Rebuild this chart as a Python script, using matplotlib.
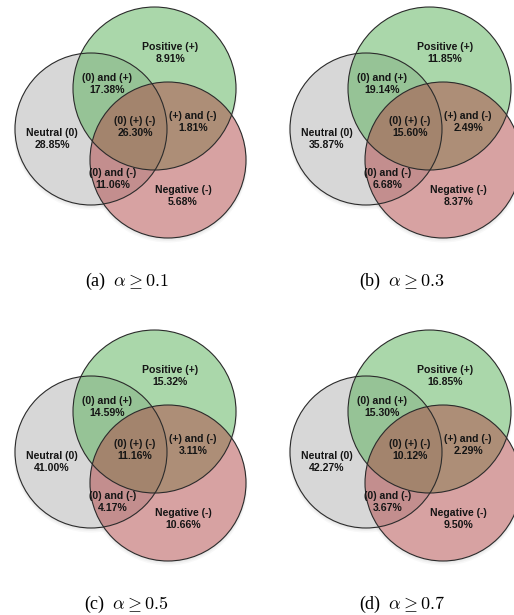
import matplotlib.pyplot as plt
from matplotlib.patches import Circle

plt.rcParams['mathtext.fontset'] = 'cm'

# region order: Neutral, Positive, Negative, (0)&(+), (0)&(-), (+)&(-), all three
region_names = ['Neutral (0)', 'Positive (+)', 'Negative (-)',
                '(0) and (+)', '(0) and (-)', '(+) and (-)', '(0) (+) (-)']

pct_a = [28.85, 8.91, 5.68, 17.38, 11.06, 1.81, 26.30]
pct_b = [35.87, 11.85, 8.37, 19.14, 6.68, 2.49, 15.60]
pct_c = [41.00, 15.32, 10.66, 14.59, 4.17, 3.11, 11.16]
pct_d = [42.27, 16.85, 9.50, 15.30, 3.67, 2.29, 10.12]

captions = [r'(a)  $\alpha \geq 0.1$', r'(b)  $\alpha \geq 0.3$',
            r'(c)  $\alpha \geq 0.5$', r'(d)  $\alpha \geq 0.7$']
panels = [pct_a, pct_b, pct_c, pct_d]

# layout of one diagram in pixels (y grows downwards)
circles = [((91, 129), 76, '#b0b0b0'),    # neutral
           ((154.5, 88.5), 81.5, '#56b056'),  # positive
           ((168, 160), 78, '#b04646')]   # negative
label_pos = [(52, 139), (170, 53), (183, 196),
             (107, 84), (113, 179), (193, 122), (135, 127)]
offsets = [(0, 0), (275, 0), (0, 323), (275, 323)]
caption_pos = (127, 281)

fig = plt.figure(figsize=(5.14, 6.15), dpi=100)
ax = fig.add_axes([0, 0, 1, 1])
ax.set_xlim(0, 514)
ax.set_ylim(615, 0)
ax.axis('off')

for pct, cap, (dx, dy) in zip(panels, captions, offsets):
    # soft shadow under the circles
    for (cx, cy), r, _ in circles:
        for k, a in [(3, 0.04), (2, 0.05), (1, 0.06)]:
            ax.add_patch(Circle((cx + dx, cy + dy + k), r + k * 0.5,
                                facecolor='#555555', edgecolor='none', alpha=a))
    for (cx, cy), r, col in circles:
        ax.add_patch(Circle((cx + dx, cy + dy), r, facecolor='white',
                            edgecolor='none'))
    for (cx, cy), r, col in circles:
        ax.add_patch(Circle((cx + dx, cy + dy), r, facecolor=col,
                            edgecolor='none', alpha=0.5))
    for (cx, cy), r, col in circles:
        ax.add_patch(Circle((cx + dx, cy + dy), r, facecolor='none',
                            edgecolor='#2b2b2b', linewidth=0.8))
    for name, v, (x, y) in zip(region_names, pct, label_pos):
        ax.text(x + dx, y + dy, f'{name}\n{v:.2f}%', ha='center', va='center',
                fontsize=7.6, fontweight='bold', family='Liberation Sans',
                color='#151515', linespacing=1.25)
    ax.text(caption_pos[0] + dx, caption_pos[1] + dy, cap, ha='center',
            va='center', fontsize=13, family='Liberation Serif')

fig.savefig('out.png', dpi=100)
